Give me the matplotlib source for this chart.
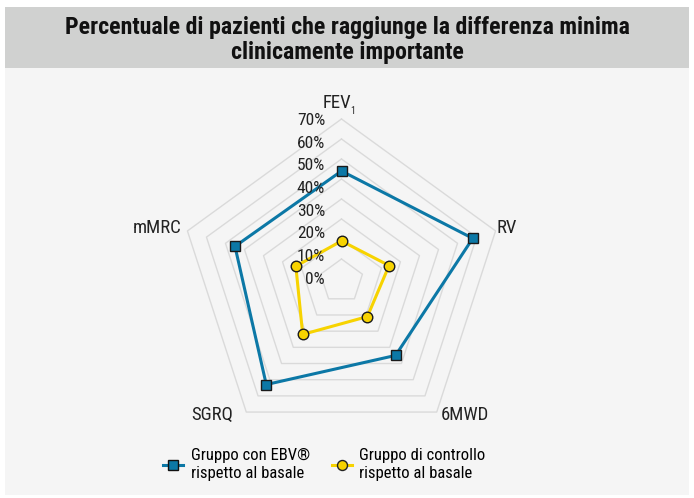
import os
import numpy as np
import matplotlib
matplotlib.use('Agg')
from matplotlib import pyplot as plt
from matplotlib import font_manager as fm
from matplotlib.patches import Rectangle
from matplotlib.lines import Line2D

categories = ['FEV', 'RV', '6MWD', 'SGRQ', 'mMRC']
ebv = [44, 58, 35, 53, 45]
control = [9, 14, 11, 22, 13]
rings = [0, 10, 20, 30, 40, 50, 60, 70]
ring_labels = ['%d%%' % r for r in rings]

title = 'Percentuale di pazienti che raggiunge la differenza minima\nclinicamente importante'
leg_ebv = 'Gruppo con EBV\u00ae\nrispetto al basale'
leg_ctrl = 'Gruppo di controllo\nrispetto al basale'

blue = '#0c78a6'
yellow = '#f7d300'
grid_c = '#dadada'
R_OFF = 11  # the 0% ring sits away from the centre


def narrow_font(bold):
    # look for a condensed face, the reference uses a narrow grotesque
    prefs = ['liberationsansnarrow', 'robotocondensed', 'dejavusanscondensed', 'condensed', 'narrow']
    files = [f.fname for f in fm.fontManager.ttflist]
    for p in prefs:
        for f in files:
            base = os.path.basename(f).lower().replace('-', '').replace('_', '')
            if p in base and ('bold' in base) == bold and 'italic' not in base and 'oblique' not in base:
                return f
    return None


f_reg = narrow_font(False)
f_bold = narrow_font(True)


def fp(size, bold=False):
    f = f_bold if bold else f_reg
    if f:
        return fm.FontProperties(fname=f, size=size)
    return fm.FontProperties(family='DejaVu Sans', size=size, weight='bold' if bold else 'normal')


W, H = 694, 498
fig = plt.figure(figsize=(W / 100, H / 100), dpi=100)
fig.patch.set_facecolor('white')


def px(x, y):
    return x / W, 1 - y / H


# background panels
fig.patches.append(Rectangle(px(5, 495), 684 / W, 427 / H, transform=fig.transFigure,
                             facecolor='#f5f5f5', edgecolor='none', zorder=-5))
fig.patches.append(Rectangle(px(5, 68), 684 / W, 61 / H, transform=fig.transFigure,
                             facecolor='#d0d1d0', edgecolor='none', zorder=-5))
fig.text(*px(347, 40), title, ha='center', va='center', fontproperties=fp(17.2, True),
         linespacing=1.08, color='#111111')

cx, cy, R = 341.5, 281, 162
ax = fig.add_axes([(cx - R) / W, (H - cy - R) / H, 2 * R / W, 2 * R / H])
ax.set_zorder(2)
lim = rings[-1] + R_OFF
ax.set_xlim(-lim, lim)
ax.set_ylim(-lim, lim)
ax.patch.set_alpha(0)
ax.axis('off')

theta = np.linspace(0, 2 * np.pi, len(categories), endpoint=False)


def to_xy(vals):
    r = np.append(np.asarray(vals, float), vals[0]) + R_OFF
    t = np.append(theta, theta[0])
    return r * np.sin(t), r * np.cos(t)


for r in rings:
    gx, gy = to_xy([r] * len(categories))
    ax.plot(gx, gy, color=grid_c, linewidth=1.0, zorder=1, clip_on=False)

for vals, col, mk, ms in [(ebv, blue, 's', 6.6), (control, yellow, 'o', 7.6)]:
    x, y = to_xy(vals)
    ax.plot(x, y, color=col, linewidth=2.2, zorder=3, clip_on=False)
    ax.plot(x[:-1], y[:-1], linestyle='none', marker=mk, markersize=ms, markerfacecolor=col,
            markeredgecolor='#1a1a1a', markeredgewidth=1, zorder=4, clip_on=False)

# radial tick labels
for i, lab in enumerate(ring_labels):
    fig.text(*px(325, 279 - i * 22.6), lab, ha='right', va='center', fontproperties=fp(12.5),
             color='#222222', zorder=5)

# category labels
cat_pos = [(337, 103), (507, 228), (465, 415), (212, 415), (157, 228)]
for name, (x, y) in zip(categories, cat_pos):
    fig.text(*px(x, y), name, ha='center', va='center', fontproperties=fp(13.5), color='#222222')
fig.text(*px(352.5, 111), '1', ha='center', va='center', fontproperties=fp(7), color='#222222')

handles = [
    Line2D([], [], color=blue, linewidth=2.2, marker='s', markersize=6.5,
           markerfacecolor=blue, markeredgecolor='#111111'),
    Line2D([], [], color=yellow, linewidth=2.2, marker='o', markersize=7.2,
           markerfacecolor=yellow, markeredgecolor='#222222'),
]
fig.legend(handles, [leg_ebv, leg_ctrl], loc='upper left', bbox_to_anchor=px(150, 435),
           ncol=2, frameon=False, prop=fp(12), handlelength=1.2, handletextpad=0.45,
           columnspacing=1.3, labelspacing=0.2, borderpad=0.3)

fig.savefig('out.png', dpi=100)
